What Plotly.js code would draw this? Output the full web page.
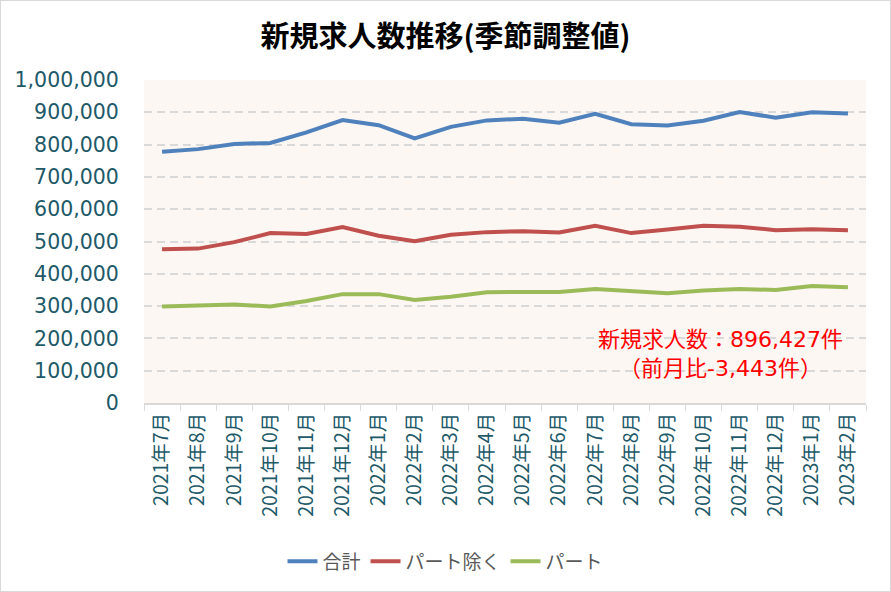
<!DOCTYPE html>
<html><head><meta charset="utf-8">
<script src="https://cdn.plot.ly/plotly-3.0.1.min.js"></script>
<style>html,body{margin:0;padding:0;background:#fff}#c{width:891px;height:592px;box-sizing:border-box;border:1px solid #d9d9d9}</style>
</head><body><div id="c"></div>
<script>
const categories = ["2021年7月","2021年8月","2021年9月","2021年10月","2021年11月","2021年12月","2022年1月","2022年2月","2022年3月","2022年4月","2022年5月","2022年6月","2022年7月","2022年8月","2022年9月","2022年10月","2022年11月","2022年12月","2023年1月","2023年2月"];
const total = [778000,786000,802000,805000,838000,876000,860000,819000,855000,875000,880000,868000,895000,863000,859000,874000,901000,883000,900000,896427];
const excludingPart = [476000,478000,498000,526000,523000,545000,518000,501000,521000,529000,532000,528000,549000,526000,537000,549000,546000,535000,538000,535000];
const partTime = [299000,302000,305000,299000,316000,337000,337000,319000,329000,343000,344000,344000,353000,347000,340000,348000,353000,350000,362000,358000];
const seriesNames = ["合計","パート除く","パート"];
const yTicks = [0,100000,200000,300000,400000,500000,600000,700000,800000,900000,1000000];

const cjk = '"Noto Sans CJK JP", "Noto Sans", sans-serif';
const wide = '"DejaVu Sans", "Noto Sans CJK JP", sans-serif';
const mk = (y, name, color) => ({x: categories, y: y, name: name, type: 'scatter', mode: 'lines', line: {color: color, width: 4}});
const data = [
  mk(total, seriesNames[0], '#4F81BD'),
  mk(excludingPart, seriesNames[1], '#C0504D'),
  mk(partTime, seriesNames[2], '#9BBB59')
];
const layout = {
  width: 889, height: 590,
  margin: {l: 143, r: 24, t: 79, b: 188},
  paper_bgcolor: '#ffffff',
  plot_bgcolor: '#FCF7F3',
  font: {family: cjk},
  title: {text: '<b>新規求人数推移(季節調整値)</b>', font: {size: 29, color: '#000000', family: cjk}, xref: 'container', x: 0.5, xanchor: 'center', y: 0.94, yanchor: 'middle'},
  xaxis: {
    type: 'category', range: [-0.5, 19.5], tickangle: -90, tickfont: {size: 19.5, color: '#215968'},
    showgrid: false, showline: true, linecolor: '#d9d9d9', linewidth: 2,
    ticks: 'outside', tickson: 'boundaries', ticklen: 6, tickcolor: '#d9d9d9', tickwidth: 1
  },
  yaxis: {
    range: [0, 1000000], tickvals: yTicks, tickformat: ',d', tickfont: {size: 20.5, color: '#215968', family: wide},
    showgrid: true, gridcolor: '#d9d9d9', griddash: '8px,5px', gridwidth: 2, zeroline: false,
    ticks: 'outside', ticklen: 20, tickcolor: 'rgba(0,0,0,0)'
  },
  legend: {orientation: 'h', xref: 'container', x: 0.5, xanchor: 'center', yref: 'container', y: 0.05, yanchor: 'middle', font: {size: 19, color: '#595959'}},
  annotations: [{
    xref: 'paper', yref: 'paper', x: 0.799, y: 0.152, xanchor: 'center', yanchor: 'middle', align: 'center', showarrow: false,
    text: '新規求人数：896,427件<br>（前月比-3,443件）', font: {size: 22, color: '#FF0000', family: wide}
  }]
};
Plotly.newPlot('c', data, layout, {displayModeBar: false});
</script></body></html>
